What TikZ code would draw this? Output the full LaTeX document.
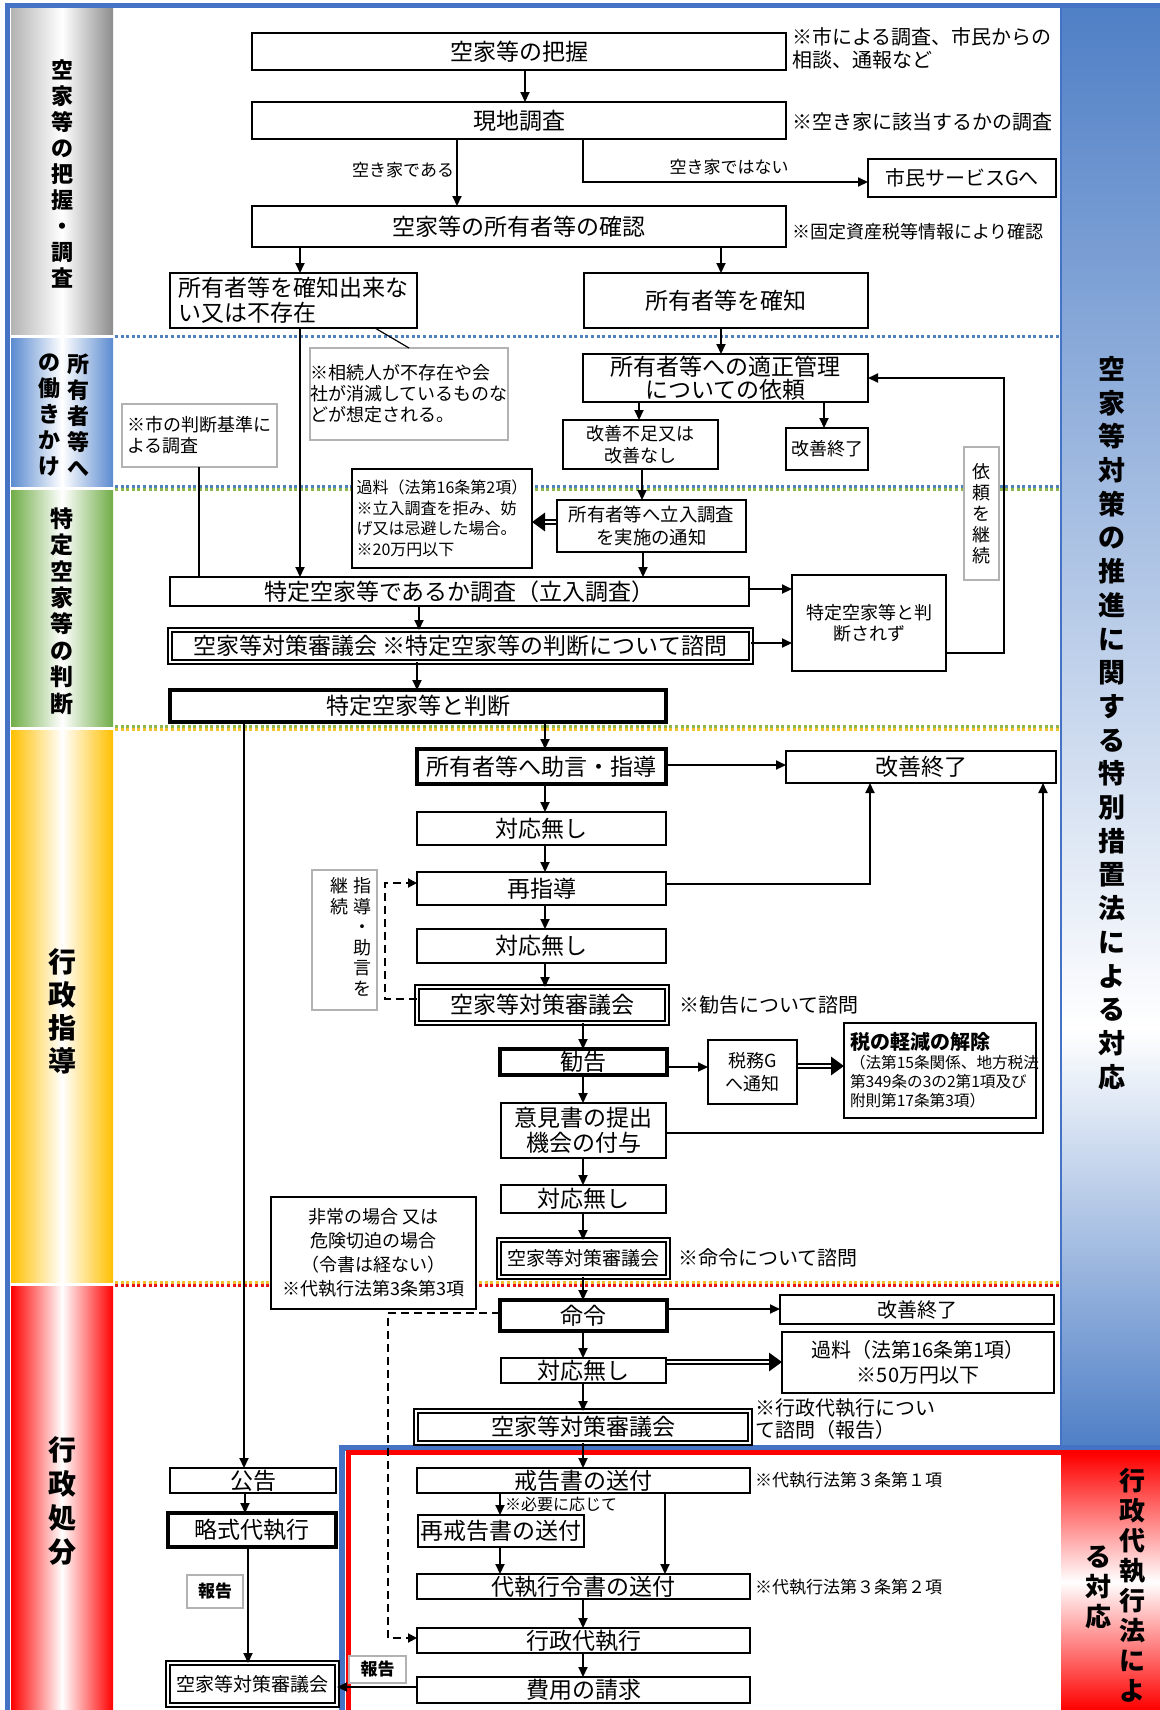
\documentclass[tikz,border=0pt]{standalone}
\usepackage{fontspec}
\setmainfont{Noto Sans CJK JP}
\usetikzlibrary{arrows.meta}
\definecolor{frameblue}{HTML}{4472C4}
\definecolor{colblue}{HTML}{4F7FC6}
\definecolor{secblue}{HTML}{5B8BD0}
\definecolor{secgreen}{HTML}{70AD47}
\definecolor{secyellow}{HTML}{FFC000}
\definecolor{secred}{HTML}{FF0000}
\definecolor{dotblue}{HTML}{4F81BD}
\definecolor{dotgreen}{HTML}{8DB64C}
\definecolor{dotyellow}{HTML}{F2C12E}
\definecolor{dotred}{HTML}{E8141B}
\newcommand{\fsz}[2]{\fontsize{#1}{#2}\selectfont}
\newcommand{\bnode}[7]{\node[#1, minimum width={(#5-#3)*0.5pt}, minimum height={(#6-#4)*0.5pt}] (#2) at ({(#3+#5)/2},{(#4+#6)/2}) {#7};}
\tikzset{
  pbox/.style={draw, line width=0.9pt, fill=white, inner sep=0pt, outer sep=0pt, align=center, font={\fsz{11.5}{14}}},
  tbox/.style={pbox, line width=2pt},
  dbox/.style={pbox, double, double distance=1.1pt, line width=0.75pt},
  nbox/.style={draw=black!30, line width=0.7pt, fill=white, inner sep=0pt, outer sep=0pt, align=left, font={\fsz{9}{10.5}}},
  arr/.style={line width=1pt, -{Triangle[length=5pt,width=4.5pt]}},
  darr/.style={line width=3pt, -{Triangle[length=6.5pt,width=9pt]}, postaction={draw=white, line width=1.2pt, arrows=-, shorten >=6.3pt, shorten <=0.6pt}},
  dasharr/.style={line width=1pt, dash pattern=on 4pt off 2.5pt, -{Triangle[length=4.5pt,width=4.5pt]}},
  leader/.style={line width=0.6pt},
  txt/.style={inner sep=0pt, outer sep=0pt},
  vlab/.style={inner sep=0pt, align=center},
  divline/.style={line width=1.5pt, dash pattern=on 1.5pt off 1.3pt}
}
\begin{document}
\begin{tikzpicture}[x=0.5pt,y=-0.5pt]
\useasboundingbox (0,0) rectangle (1160,1710);
\fill[white] (0,0) rectangle (1160,1710);
% left section columns
\shade[left color=black!30, right color=black!45, middle color=white] (11,8) rectangle (113,334);
\shade[left color=secblue, right color=secblue, middle color=white] (11,338) rectangle (113,486);
\shade[left color=secgreen, right color=secgreen, middle color=white] (11,490) rectangle (113,726);
\shade[left color=secyellow, right color=secyellow, middle color=white] (11,730) rectangle (113,1282);
\shade[left color=secred, right color=secred, middle color=white] (11,1286) rectangle (113,1710);
% right column
\shade[top color=colblue, bottom color=white] (1061,5) rectangle (1160,1030);
\shade[top color=white, bottom color=colblue] (1061,1029) rectangle (1160,1446);
\shade[top color=secred, bottom color=secred, middle color=white] (1061,1454) rectangle (1160,1710);
% frames
\draw[frameblue, line width=2.5pt] (7.5,1710) -- (7.5,5.5) -- (1160,5.5);
\draw[frameblue, line width=0.6pt] (1061,5) -- (1061,1445);
\draw[frameblue, line width=3pt] (342,1710) -- (342,1447.5) -- (1160,1447.5);
\draw[secred, line width=2.5pt] (348.5,1710) -- (348.5,1452.5) -- (1160,1452.5);
% dividers
\draw[divline, dotblue] (115,336) -- (1061,336);
\draw[divline, dotblue] (115,486.5) -- (1061,486.5);
\draw[divline, dotgreen] (115,489.5) -- (1061,489.5);
\draw[divline, dotgreen] (115,726.5) -- (1061,726.5);
\draw[divline, dotyellow] (115,729.5) -- (1061,729.5);
\draw[divline, dotyellow] (115,1282.5) -- (1061,1282.5);
\draw[divline, dotred] (115,1285.5) -- (1061,1285.5);
% section labels
\node[vlab, font={\fsz{11}{13}\bfseries}] (labA) at (62,174) {空\\家\\等\\の\\把\\握\\・\\調\\査};
\node[vlab, font={\fsz{11}{13}\bfseries}] (labB1) at (79,415) {所\\有\\者\\等\\へ};
\node[vlab, font={\fsz{11}{13}\bfseries}] (labB2) at (50,415) {の\\働\\き\\か\\け};
\node[vlab, font={\fsz{11.5}{13.2}\bfseries}] (labC) at (62,611) {特\\定\\空\\家\\等\\の\\判\\断};
\node[vlab, font={\fsz{14}{16.5}\bfseries}] (labD) at (62,1011) {行\\政\\指\\導};
\node[vlab, font={\fsz{14}{17}\bfseries}] (labE) at (62,1501) {行\\政\\処\\分};
\node[vlab, font={\fsz{13.5}{16.85}\bfseries}] (title) at (1112,723) {空\\家\\等\\対\\策\\の\\推\\進\\に\\関\\す\\る\\特\\別\\措\\置\\法\\に\\よ\\る\\対\\応};
\node[vlab, font={\fsz{13}{15}\bfseries}] (labF1) at (1132,1585) {行\\政\\代\\執\\行\\法\\に\\よ};
\node[vlab, font={\fsz{13}{15}\bfseries}] (labF2) at (1098,1587) {る\\対\\応};
% boxes
\bnode{pbox}{haaku}{252}{33}{786}{70}{空家等の把握}
\bnode{pbox}{genchi}{252}{102}{786}{139}{現地調査}
\bnode{pbox, font={\fsz{10}{12}}}{shimin}{868}{159}{1056}{197}{市民サービスGへ}
\bnode{pbox}{kakunin}{252}{206}{786}{247}{空家等の所有者等の確認}
\bnode{pbox, align=left, font={\fsz{11.5}{12.5}}}{fumei}{170}{273}{417}{328}{所有者等を確知出来な\\い又は不存在}
\bnode{pbox}{kakuchi}{584}{273}{868}{328}{所有者等を確知}
\bnode{pbox, font={\fsz{11.5}{11.5}}}{irai}{583}{354}{868}{402}{所有者等への適正管理\\についての依頼}
\bnode{pbox, font={\fsz{9}{11}}}{fusoku}{563}{420}{718}{469}{改善不足又は\\改善なし}
\bnode{pbox, font={\fsz{9}{11}}}{shuryoA}{786}{428}{868}{470}{改善終了}
\bnode{nbox}{sozoku}{310}{348}{508}{440}{※相続人が不存在や会\\社が消滅しているものな\\どが想定される。}
\bnode{nbox}{kijun}{122}{404}{277}{467}{※市の判断基準に\\よる調査}
\bnode{pbox, align=left, font={\fsz{8}{10.25}}}{karyoA}{352}{469}{532}{568}{過料（法第16条第2項）\\※立入調査を拒み、妨\\げ又は忌避した場合。\\※20万円以下}
\bnode{pbox, font={\fsz{9.2}{11.5}}}{tsuchi}{557}{500}{746}{552}{所有者等へ立入調査\\を実施の通知}
\bnode{pbox}{chosa}{170}{577}{749}{606}{特定空家等であるか調査（立入調査）}
\bnode{dbox}{shingiA}{170}{630}{751}{662}{空家等対策審議会 ※特定空家等の判断について諮問}
\bnode{tbox}{handan}{170}{690}{666}{722}{特定空家等と判断}
\bnode{pbox, font={\fsz{9}{10.8}}}{sarezu}{792}{575}{946}{671}{特定空家等と判\\断されず}
\bnode{nbox, align=center, font={\fsz{9}{10.5}}}{keizoku}{964}{447}{999}{580}{依\\頼\\を\\継\\続}
\bnode{tbox}{jogen}{417}{749}{666}{784}{所有者等へ助言・指導}
\bnode{pbox}{shuryoB}{786}{751}{1056}{783}{改善終了}
\bnode{pbox}{nashiA}{417}{812}{666}{845}{対応無し}
\bnode{pbox}{saishido}{417}{872}{666}{905}{再指導}
\bnode{pbox}{nashiB}{417}{929}{666}{963}{対応無し}
\bnode{dbox}{shingiB}{417}{987}{667}{1023}{空家等対策審議会}
\bnode{nbox}{shidokz}{312}{870}{377}{1010}{}
\node[vlab, font={\fsz{9}{10.3}}, anchor=north] (shidoA) at (362,877) {指\\導\\・\\助\\言\\を};
\node[vlab, font={\fsz{9}{10.3}}, anchor=north] (shidoB) at (339,877) {継\\続};
\bnode{tbox}{kankoku}{500}{1049}{667}{1075}{勧告}
\bnode{pbox, font={\fsz{9}{11.5}}}{zeimu}{708}{1040}{797}{1104}{税務G\\へ通知}
\bnode{pbox, align=left, text width={(192-12)*0.5pt}, font={\fsz{7.8}{9.5}}}{keigen}{844}{1023}{1036}{1118}{{\fsz{10}{11.5}\bfseries 税の軽減の解除}\\（法第15条関係、地方税法\\第349条の3の2第1項及び\\附則第17条第3項）}
\bnode{pbox, font={\fsz{11.5}{12.5}}}{iken}{501}{1103}{666}{1158}{意見書の提出\\機会の付与}
\bnode{pbox}{nashiC}{501}{1185}{666}{1213}{対応無し}
\bnode{dbox, font={\fsz{9.5}{11}}}{shingiC}{499}{1240}{668}{1277}{空家等対策審議会}
\bnode{pbox, font={\fsz{9}{12}}}{hijo}{271}{1197}{476}{1309}{非常の場合 又は\\危険切迫の場合\\（令書は経ない）\\※代執行法第3条第3項}
\bnode{tbox}{meirei}{500}{1300}{667}{1331}{命令}
\bnode{pbox, font={\fsz{10}{12}}}{shuryoC}{780}{1295}{1054}{1324}{改善終了}
\bnode{pbox}{nashiD}{501}{1358}{666}{1383}{対応無し}
\bnode{pbox, font={\fsz{10}{12.5}}}{karyoB}{782}{1332}{1054}{1393}{過料（法第16条第1項）\\※50万円以下}
\bnode{dbox}{shingiD}{416}{1411}{750}{1443}{空家等対策審議会}
\bnode{pbox}{kaikoku}{417}{1468}{750}{1493}{戒告書の送付}
\bnode{pbox}{saikaikoku}{418}{1515}{584}{1547}{再戒告書の送付}
\bnode{pbox}{reisho}{417}{1574}{750}{1599}{代執行令書の送付}
\bnode{pbox}{daishikko}{417}{1628}{750}{1653}{行政代執行}
\bnode{pbox}{hiyo}{417}{1677}{750}{1703}{費用の請求}
\bnode{pbox}{kokoku}{170}{1468}{336}{1493}{公告}
\bnode{tbox}{ryaku}{168}{1513}{336}{1547}{略式代執行}
\bnode{dbox, font={\fsz{9.5}{11}}}{shingiE}{168}{1663}{337}{1705}{空家等対策審議会}
\bnode{nbox, align=center, font={\fsz{8.5}{10}\bfseries}}{hokokuA}{187}{1575}{243}{1608}{報告}
\bnode{nbox, align=center, font={\fsz{8.5}{10}\bfseries}}{hokokuB}{349}{1656}{406}{1683}{報告}
% free texts
\node[txt, anchor=west, align=left, font={\fsz{10}{11.5}}] (noteA) at (792,48.5) {※市による調査、市民からの\\相談、通報など};
\node[txt, anchor=west, font={\fsz{10}{12}}] (noteB) at (792,122) {※空き家に該当するかの調査};
\node[txt, anchor=west, font={\fsz{9}{11}}] (noteC) at (792,232) {※固定資産税等情報により確認};
\node[txt, anchor=east, font={\fsz{8.5}{10}}] (lblA) at (454,170) {空き家である};
\node[txt, font={\fsz{8.5}{10}}] (lblB) at (729,167) {空き家ではない};
\node[txt, anchor=west, font={\fsz{10}{12}}] (noteD) at (679,1005) {※勧告について諮問};
\node[txt, anchor=west, font={\fsz{10}{12}}] (noteE) at (678,1258) {※命令について諮問};
\node[txt, anchor=west, align=left, font={\fsz{10}{11}}] (noteF) at (755,1419) {※行政代執行につい\\て諮問（報告）};
\node[txt, anchor=west, font={\fsz{8.5}{10}}] (noteG) at (755,1480) {※代執行法第３条第１項};
\node[txt, anchor=west, font={\fsz{8.5}{10}}] (noteH) at (755,1587) {※代執行法第３条第２項};
\node[txt, anchor=west, font={\fsz{8}{9}}] (noteI) at (505,1504) {※必要に応じて};
% connectors
\draw[arr] (525,0 |- haaku.south) -- (525,0 |- genchi.north);
\draw[arr] (457,0 |- genchi.south) -- (457,0 |- kakunin.north);
\draw[arr] (583,0 |- genchi.south) -- (583,182) -- (shimin.west |- 0,182);
\draw[arr] (300,0 |- kakunin.south) -- (300,0 |- fumei.north);
\draw[arr] (721,0 |- kakunin.south) -- (721,0 |- kakuchi.north);
\draw[arr] (721,0 |- kakuchi.south) -- (721,0 |- irai.north);
\draw[arr] (639,0 |- irai.south) -- (639,0 |- fusoku.north);
\draw[arr] (824,0 |- irai.south) -- (824,0 |- shuryoA.north);
\draw[arr] (642,0 |- fusoku.south) -- (642,0 |- tsuchi.north);
\draw[arr] (643,0 |- tsuchi.south) -- (643,0 |- chosa.north);
\draw[darr] (tsuchi.west |- 0,522) -- (karyoA.east |- 0,522);
\draw[arr] (300,0 |- fumei.south) -- (300,0 |- chosa.north);
\draw[leader] (409,0 |- sozoku.north) -- (375,0 |- fumei.south);
\draw[leader] (199,0 |- kijun.south) -- (199,0 |- chosa.north);
\draw[arr] (419,0 |- chosa.south) -- (419,0 |- shingiA.north);
\draw[arr] (417,0 |- shingiA.south) -- (417,0 |- handan.north);
\draw[arr] (chosa.east |- 0,589) -- (sarezu.west |- 0,589);
\draw[arr] (shingiA.east |- 0,643) -- (sarezu.west |- 0,643);
\draw[arr] (sarezu.east |- 0,653) -- (1004,653) -- (1004,378) -- (irai.east |- 0,378);
\draw[arr] (545,0 |- handan.south) -- (545,0 |- jogen.north);
\draw[arr] (244,0 |- handan.south) -- (244,0 |- kokoku.north);
\draw[arr] (jogen.east |- 0,765) -- (shuryoB.west |- 0,765);
\draw[arr] (545,0 |- jogen.south) -- (545,0 |- nashiA.north);
\draw[arr] (545,0 |- nashiA.south) -- (545,0 |- saishido.north);
\draw[arr] (545,0 |- saishido.south) -- (545,0 |- nashiB.north);
\draw[arr] (545,0 |- nashiB.south) -- (545,0 |- shingiB.north);
\draw[arr] (saishido.east |- 0,884) -- (870,884) -- (870,0 |- shuryoB.south);
\draw[dasharr] (shingiB.west |- 0,999) -- (385,999) -- (385,883) -- (saishido.west |- 0,883);
\draw[arr] (583,0 |- shingiB.south) -- (583,0 |- kankoku.north);
\draw[arr] (kankoku.east |- 0,1067) -- (zeimu.west |- 0,1067);
\draw[darr] (zeimu.east |- 0,1066) -- (keigen.west |- 0,1066);
\draw[arr] (583,0 |- kankoku.south) -- (583,0 |- iken.north);
\draw[arr] (iken.east |- 0,1133) -- (1043,1133) -- (1043,0 |- shuryoB.south);
\draw[arr] (583,0 |- iken.south) -- (583,0 |- nashiC.north);
\draw[arr] (583,0 |- nashiC.south) -- (583,0 |- shingiC.north);
\draw[arr] (583,0 |- shingiC.south) -- (583,0 |- meirei.north);
\draw[arr] (meirei.east |- 0,1309) -- (shuryoC.west |- 0,1309);
\draw[dasharr] (meirei.west |- 0,1313) -- (388,1313) -- (388,1638) -- (daishikko.west |- 0,1638);
\draw[arr] (583,0 |- meirei.south) -- (583,0 |- nashiD.north);
\draw[darr] (nashiD.east |- 0,1362) -- (karyoB.west |- 0,1362);
\draw[arr] (583,0 |- nashiD.south) -- (583,0 |- shingiD.north);
\draw[arr] (583,0 |- shingiD.south) -- (583,0 |- kaikoku.north);
\draw[arr] (500,0 |- kaikoku.south) -- (500,0 |- saikaikoku.north);
\draw[arr] (665,0 |- kaikoku.south) -- (665,0 |- reisho.north);
\draw[arr] (500,0 |- saikaikoku.south) -- (500,0 |- reisho.north);
\draw[arr] (583,0 |- reisho.south) -- (583,0 |- daishikko.north);
\draw[arr] (583,0 |- daishikko.south) -- (583,0 |- hiyo.north);
\draw[arr] (hiyo.west |- 0,1687) -- (shingiE.east |- 0,1687);
\draw[arr] (245,0 |- kokoku.south) -- (245,0 |- ryaku.north);
\draw[arr] (248,0 |- ryaku.south) -- (248,0 |- shingiE.north);
\end{tikzpicture}
\end{document}
